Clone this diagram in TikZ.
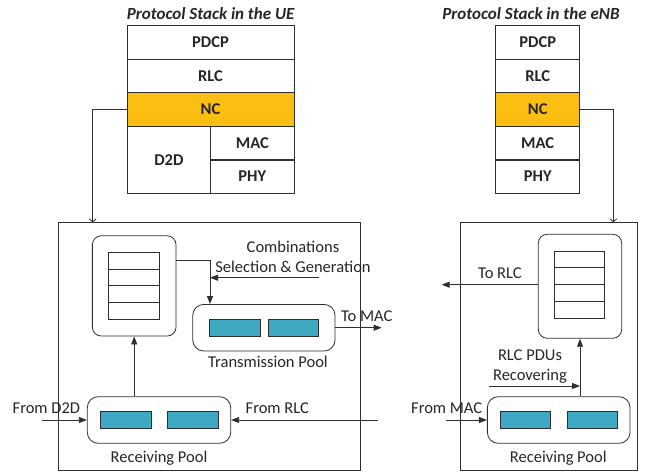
\documentclass[tikz,border=0pt]{standalone}
\usepackage{fontspec}
\setmainfont{Carlito}
\usetikzlibrary{arrows.meta}
\definecolor{ncor}{HTML}{FBBF14}
\definecolor{cyb}{HTML}{3FA9C3}
\definecolor{ln}{HTML}{2E2E2E}
\definecolor{txt}{HTML}{262626}
\begin{document}
\begin{tikzpicture}[x=1pt,y=-1pt,
  every node/.style={text=txt},
  stk/.style={draw=ln, line width=0.8pt, inner sep=0pt, minimum height=33.5pt, font=\fontsize{16.5}{18}\selectfont\bfseries},
  big/.style={draw=ln, line width=0.8pt, inner sep=0pt},
  pool/.style={draw=ln, line width=0.8pt, inner sep=0pt, rounded corners=11pt, minimum height=46.6pt},
  bufbox/.style={draw=ln, line width=0.8pt, inner sep=0pt, rounded corners=9pt},
  cell/.style={draw=ln, line width=0.7pt, inner sep=0pt, minimum height=16.75pt},
  pkt/.style={draw=ln, fill=cyb, line width=0.7pt, inner sep=0pt, minimum height=17pt},
  lbl/.style={inner sep=0pt, font=\fontsize{16.5}{20}\selectfont, align=center},
  ttl/.style={inner sep=0pt, font=\fontsize{17}{19}\selectfont\bfseries\itshape},
  arr/.style={draw=ln, line width=0.8pt, -{Triangle[length=8pt,width=6pt]}},
  oarr/.style={draw=ln, line width=0.8pt, -{Straight Barb[length=3pt,width=7pt]}}
]
\useasboundingbox (0,0) rectangle (649,472);

% titles
\node[ttl] (t1) at (210.7,13.3) {Protocol Stack in the UE};
\node[ttl] (t2) at (531,13.3) {Protocol Stack in the eNB};

% UE stack
\node[stk, minimum width=167pt] (uePDCP) at (210.5,42.5) {PDCP};
\node[stk, minimum width=167pt] (ueRLC) at (210.5,76) {RLC};
\node[stk, minimum width=167pt, fill=ncor] (ueNC) at (210.5,109.5) {NC};
\node[stk, minimum width=83.7pt, minimum height=67pt] (ueD2D) at (168.85,159.8) {D2D};
\node[stk, minimum width=83.3pt] (ueMAC) at (252.35,143.2) {MAC};
\node[stk, minimum width=83.3pt] (uePHY) at (252.35,176.6) {PHY};

% eNB stack
\node[stk, minimum width=84pt] (enPDCP) at (537.7,42.5) {PDCP};
\node[stk, minimum width=84pt] (enRLC) at (537.7,76) {RLC};
\node[stk, minimum width=84pt, fill=ncor] (enNC) at (537.7,109.5) {NC};
\node[stk, minimum width=84pt] (enMAC) at (537.7,143.2) {MAC};
\node[stk, minimum width=84pt] (enPHY) at (537.7,176.6) {PHY};

% big boxes
\node[big, minimum width=302pt, minimum height=247.7pt] (lbox) at (209.7,346.15) {};
\node[big, minimum width=176.6pt, minimum height=247.7pt] (rbox) at (549,346.15) {};

\coordinate (ueIn) at (92.7,222.3);
\coordinate (enIn) at (613.3,222.3);
\draw[oarr] (ueNC.west) -| (ueIn);
\draw[oarr] (enNC.east) -| (enIn);

% left buffer
\node[bufbox, minimum width=83.7pt, minimum height=100.3pt] (lbuf) at (134.2,285.9) {};
\node[cell, minimum width=50.3pt] (lc1) at (133.9,260.7) {};
\node[cell, minimum width=50.3pt] (lc2) at (133.9,277.45) {};
\node[cell, minimum width=50.3pt] (lc3) at (133.9,294.2) {};
\node[cell, minimum width=50.3pt] (lc4) at (133.9,310.95) {};

% transmission pool
\node[pool, minimum width=142.3pt] (trans) at (263.9,327.7) {};
\node[pkt, minimum width=50.7pt] (tp1) at (234.7,327.7) {};
\node[pkt, minimum width=50pt] (tp2) at (293.7,327.7) {};
\node[lbl] (transl) at (268,362) {Transmission Pool};

% left receiving pool
\node[pool, minimum width=143.4pt] (lrec) at (159,420) {};
\node[pkt, minimum width=50.7pt] (lp1) at (125.7,419.8) {};
\node[pkt, minimum width=51pt] (lp2) at (192.8,419.8) {};
\node[lbl] (lrecl) at (159,458.3) {Receiving Pool};

% left arrows
\coordinate (cA) at (210,260.7);
\coordinate (cB) at (319.3,277.7);
\draw[arr] (lbuf.east |- cA) -| (cA |- trans.north);
\draw[arr] (cB) -- (cA |- cB);
\node[lbl] (comb) at (293,257) {Combinations\\Selection \& Generation};
\coordinate (toMAC) at (381.7,327.7);
\draw[arr] (trans.east) -- (toMAC);
\node[lbl] (toMACl) at (366.7,316) {To MAC};
\draw[arr] (lbuf.south |- lrec.north) -- (lbuf.south);
\coordinate (fD2D) at (41.7,420);
\draw[arr] (fD2D) -- (lrec.west);
\node[lbl] (fD2Dl) at (46.4,408.3) {From D2D};
\coordinate (fRLC) at (377.7,420);
\draw[arr] (fRLC) -- (lrec.east);
\node[lbl] (fRLCl) at (277.3,408.3) {From RLC};

% right buffer
\node[bufbox, minimum width=83.4pt, minimum height=104pt] (rbuf) at (580,286.3) {};
\node[cell, minimum width=50pt] (rc1) at (579.3,259.4) {};
\node[cell, minimum width=50pt] (rc2) at (579.3,276.15) {};
\node[cell, minimum width=50pt] (rc3) at (579.3,292.9) {};
\node[cell, minimum width=50pt] (rc4) at (579.3,309.65) {};

% right receiving pool
\node[pool, minimum width=142.7pt] (rrec) at (558.7,420) {};
\node[pkt, minimum width=50.7pt] (rp1) at (525.3,419.8) {};
\node[pkt, minimum width=50pt] (rp2) at (592.3,419.8) {};
\node[lbl] (rrecl) at (558.3,458.3) {Receiving Pool};

% right arrows
\coordinate (toRLC) at (441.7,284.7);
\draw[arr] (rbuf.west |- toRLC) -- (toRLC);
\node[lbl] (toRLCl) at (500,273.3) {To RLC};
\draw[arr] (rbuf.south |- rrec.north) -- (rbuf.south);
\coordinate (cR) at (489.3,386);
\draw[arr] (cR) -- (cR -| rbuf.south);
\node[lbl] (recl) at (530,366.2) {RLC PDUs\\Recovering};
\coordinate (fMAC) at (445.7,420);
\draw[arr] (fMAC) -- (rrec.west);
\node[lbl] (fMACl) at (446.7,408.3) {From MAC};
\end{tikzpicture}
\end{document}
